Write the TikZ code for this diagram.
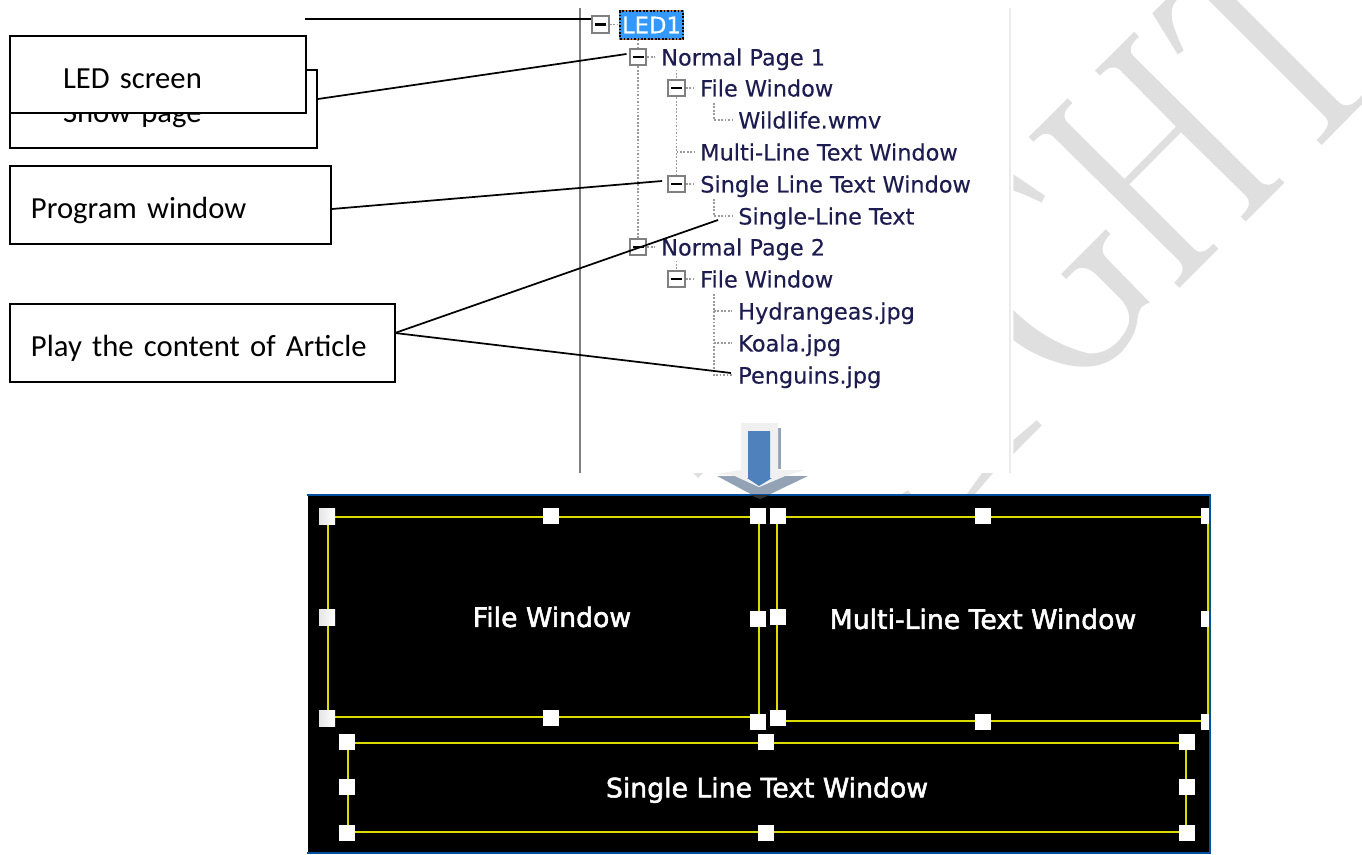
\documentclass[tikz,border=0pt]{standalone}
\usepackage{fontspec}
\setmainfont{Carlito}
\newfontfamily\treefont{DejaVu Sans}[FakeBold=0.25]
\newfontfamily\panelfont{DejaVu Sans}[FakeBold=2]
\usetikzlibrary{calc}
\definecolor{wmgray}{HTML}{DFDFDF}
\definecolor{treeink}{HTML}{1C1C50}
\definecolor{dotgray}{HTML}{9A9A9A}
\definecolor{iconrim}{HTML}{808080}
\definecolor{selblue}{HTML}{3399FF}
\definecolor{panelblue}{HTML}{00509F}
\definecolor{winyellow}{HTML}{DCDC00}
\definecolor{arrowblue}{HTML}{4F81BD}
\definecolor{arrowpale}{HTML}{F0F0F0}
\definecolor{arrowshade}{HTML}{93A3B5}
\tikzset{
  x=0.75pt,y=-0.75pt,
  callout/.style={draw=black,line width=1.5pt,fill=white,inner ysep=0pt,inner xsep=15.75pt,align=left,font=\fontsize{23}{27}\selectfont},
  link/.style={draw=black,line width=1.3pt},
  twig/.style={draw=dotgray,line width=1.3pt,dash pattern=on 1.3pt off 1.3pt},
  icon/.style={draw=iconrim,line width=1.7pt,fill=white,minimum size=12.5pt,inner sep=0pt},
  lbl/.style={anchor=base west,inner sep=0pt,text=treeink,font=\treefont\fontsize{16.8}{20}\selectfont},
  handle/.style={fill=white,draw=none,minimum size=12pt,inner sep=0pt},
  shadehandle/.style={handle,left color=black!10,right color=white},
  winframe/.style={draw=winyellow,line width=2pt},
  wintext/.style={text=white,inner sep=0pt,font=\panelfont\fontsize{20}{23}\selectfont},
}
\newcommand{\minus}[1]{\draw[black,line width=1.7pt] ($(#1)+(-5.5,0)$) -- ($(#1)+(5.5,0)$);}
\newcommand{\lowered}[1]{\raisebox{-10.2pt}[0pt][0pt]{#1}}
\begin{document}
\begin{tikzpicture}
\useasboundingbox (0,0) rectangle (1362,855);
% watermark fragments
\begin{scope}[shift={(1000,0)},x=0.25pt,y=-0.25pt]
\fill[wmgray] (203,295) -- (217,309) .. controls (195,330) and (185,345) .. (200,365) -- (373,537) -- (528,380) -- (360,210) .. controls (340,195) and (325,200) .. (300,227) -- (285,212) -- (403,95) -- (417,110) .. controls (390,135) and (385,150) .. (400,168) -- (780,545) .. controls (800,562) and (820,555) .. (838,533) -- (853,548) -- (737,664) -- (722,650) .. controls (750,622) and (755,605) .. (735,585) -- (543,397) -- (388,553) -- (585,750) .. controls (600,762) and (620,755) .. (640,731) -- (655,746) -- (538,863) -- (523,848) .. controls (552,820) and (555,800) .. (535,780) -- (160,410) .. controls (140,393) and (125,400) .. (100,425) -- (86,411) -- cycle;
\fill[wmgray] (625,0) -- (975,350) .. controls (992,368) and (985,385) .. (950,420) -- (965,435) -- (1086,312) -- (1086,285) .. controls (1060,318) and (1035,325) .. (1015,305) -- (710,0) -- cycle;
\fill[wmgray] (497,0) -- (457,40) -- (533,163) -- (551,152) .. controls (525,95) and (505,50) .. (520,15) -- (530,0) -- cycle;
\fill[wmgray] (317,688) -- (331,702) .. controls (305,730) and (300,755) .. (320,775) -- (450,908) .. controls (420,915) and (415,935) .. (412,960) .. controls (405,1010) and (385,1030) .. (365,1055) .. controls (330,1090) and (290,1102) .. (240,1100) .. controls (170,1095) and (90,1060) .. (40,1020) -- (40,930) .. controls (100,990) and (180,1040) .. (265,1060) .. controls (320,1065) and (365,1025) .. (385,975) .. controls (395,940) and (375,910) .. (360,895) -- (285,820) .. controls (260,800) and (240,800) .. (225,810) -- (198,837) -- (183,822) -- cycle;
\fill[wmgray] (40,523) -- (135,587) -- (125,608) .. controls (90,590) and (60,578) .. (40,572) -- cycle;
\fill[wmgray] (110,1261) -- (125,1276) -- (40,1362) -- (40,1320) -- cycle;
\end{scope}
\fill[wmgray] (693,473) -- (703,473) -- (698,478) -- cycle;
\fill[wmgray] (982,473) -- (993,473) -- (975,494) -- (967,494) -- cycle;
\fill[wmgray] (902,494) -- (908,490) -- (911,494) -- cycle;
% screenshot edges
\draw[iconrim,line width=1.5pt] (580,8) -- (580,473);
\draw[black!8,line width=2.2pt] (1010,8) -- (1010,473);
% left callouts
\node[callout,minimum height=58.5pt,text width=150.75pt,inner xsep=39.75pt] (showbox) at (163.5,109) {\lowered{Show page}};
\node[callout,minimum height=57.5pt,text width=142.5pt,inner xsep=39.75pt] (ledbox) at (158,74.5) {\lowered{LED screen}};
\node[callout,minimum height=58.5pt,text width=209.25pt] (progbox) at (170.5,205) {\lowered{Program window}};
\node[callout,minimum height=58.5pt,text width=257.25pt] (playbox) at (202.5,343) {\lowered{Play the content of Article}};
% tree icons
\node[icon] (i1) at (600.5,24.5) {}; \minus{i1}
\node[icon] (i2) at (638,57) {}; \minus{i2}
\node[icon] (i3) at (676.5,88) {}; \minus{i3}
\node[icon] (i6) at (676.5,184) {}; \minus{i6}
\node[icon] (i8) at (638,247) {}; \minus{i8}
\node[icon] (i9) at (676.5,279) {}; \minus{i9}
% tree labels
\node[preaction={draw=orange!85!black,line width=1.6pt,solid},fill=selblue,draw=black,line width=1.6pt,dash pattern=on 1.3pt off 1.3pt,minimum width=47pt,minimum height=20.5pt,inner sep=0pt,text=white,font=\treefont\fontsize{17}{20}\selectfont] (t1) at (651.5,25) {LED1};
\node[lbl] (t2) at (661,65.5) {Normal Page 1};
\node[lbl] (t3) at (700,96.5) {File Window};
\node[lbl] (t4) at (738,128.5) {Wildlife.wmv};
\node[lbl] (t5) at (700,160.5) {Multi-Line Text Window};
\node[lbl] (t6) at (700,192.5) {Single Line Text Window};
\node[lbl] (t7) at (738,224.5) {Single-Line Text};
\node[lbl] (t8) at (661,255.5) {Normal Page 2};
\node[lbl] (t9) at (700,287.5) {File Window};
\node[lbl] (t10) at (738,319.5) {Hydrangeas.jpg};
\node[lbl] (t11) at (738,351.5) {Koala.jpg};
\node[lbl] (t12) at (738,383.5) {Penguins.jpg};
% tree twigs
\coordinate (w4a) at (714,103); \coordinate (w4b) at (714,120);
\coordinate (w7a) at (714,199); \coordinate (w7b) at (714,216);
\coordinate (w5) at (676.5,152);
\coordinate (wp) at (714,294); \coordinate (wq) at (714,311); \coordinate (wr) at (714,343); \coordinate (ws) at (714,375);
\draw[twig] (i1.east) -- ++(8,0);
\draw[twig] (t1.south -| i2) -- (i2.north);
\draw[twig] (i2.south) -- (i8.north);
\draw[twig] (i2.east) -- ++(8,0);
\draw[twig] (i3.east) -- ++(7,0);
\draw[twig] (i3.south) -- (i6.north);
\draw[twig] ($(i3.north)+(0,-9)$) -- (i3.north);
\draw[twig] (w5) -- ($(t5.west |- w5)+(-6,0)$);
\draw[twig] (i6.east) -- ++(7,0);
\draw[twig] (w4a) -- (w4b) -- ($(t4.west |- w4b)+(-6,0)$);
\draw[twig] (w7a) -- (w7b) -- ($(t7.west |- w7b)+(-6,0)$);
\draw[twig] (i8.east) -- ++(8,0);
\draw[twig] ($(i9.north)+(0,-9)$) -- (i9.north);
\draw[twig] (i9.east) -- ++(7,0);
\draw[twig] (wp) -- (ws) -- ($(t12.west |- ws)+(-6,0)$);
\draw[twig] (wq) -- ($(t10.west |- wq)+(-6,0)$);
\draw[twig] (wr) -- ($(t11.west |- wr)+(-6,0)$);
% connectors
\coordinate (ledfree) at (305,19);
\draw[link] (ledfree) -- (i1.west |- ledfree);
\draw[link] (showbox.east) ++(0,-10) coordinate (shout) -- ($(i2.west)+(-2,-3)$);
\draw[link] (progbox.east) ++(0,4) coordinate (prout) -- ($(i6.west)+(-5,-3)$);
\coordinate (playout) at (395,333);
\draw[link] (playout) -- ($(t7.west |- w7b)+(-20,4)$);
\draw[link] (playout) -- ($(t12.west |- ws)+(-7,-2)$);
% arrow
\fill[arrowshade] (778,428) rectangle (781,469);
\fill[arrowshade] (717,476) -- (735,476) -- (759,487) -- (785,476) -- (808,476) -- (760,499) -- cycle;
\fill[arrowpale] (741,423) -- (778,423) -- (778,470) -- (805,470) -- (785,476) -- (759,487) -- (735,476) -- (715,474) -- (741,470) -- cycle;
\fill[arrowblue] (748,431) -- (770,431) -- (770,478) -- (772,478) -- (759,486) -- (747,478) -- (748,478) -- cycle;
% lower panel
\fill[black] (308,495) rectangle (1210,853);
\draw[panelblue,line width=1.5pt] (307,495) -- (1210,495) -- (1210,853) -- (307,853);
\fill[arrowshade!30!black] (750,495) -- (770,495) -- (760,499) -- cycle;
\draw[winframe] (328,517) rectangle (759,717);
\draw[winframe] (777,517) -- (1208,517) -- (1208,721) -- (777,721) -- cycle;
\draw[winframe] (348,743) rectangle (1186,832);
\foreach \n/\x/\y in {a/327/516,b/327/617,c/327/718}{\node[shadehandle] (h\n) at (\x,\y) {};}
\foreach \n/\x/\y in {d/551/516,e/758/516,f/758/619,g/551/718,h/758/722,i/778/516,j/982.5/516,k/778/617,l/778/718,m/982.5/722,n/347/742,o/766/742,p/1187/742,q/347/787,r/1187/787,s/347/833,t/766/833,u/1187/833}{\node[handle] (h\n) at (\x,\y) {};}
\fill[white] (1201,508) rectangle (1209,524);
\fill[white] (1201,611) rectangle (1209,627);
\fill[white] (1201,714) rectangle (1209,730);
\node[wintext] (pfile) at (552,617) {File Window};
\node[wintext] (pmulti) at (983,619) {Multi-Line Text Window};
\node[wintext] (psingle) at (767,790) {Single Line Text Window};
\end{tikzpicture}
\end{document}
